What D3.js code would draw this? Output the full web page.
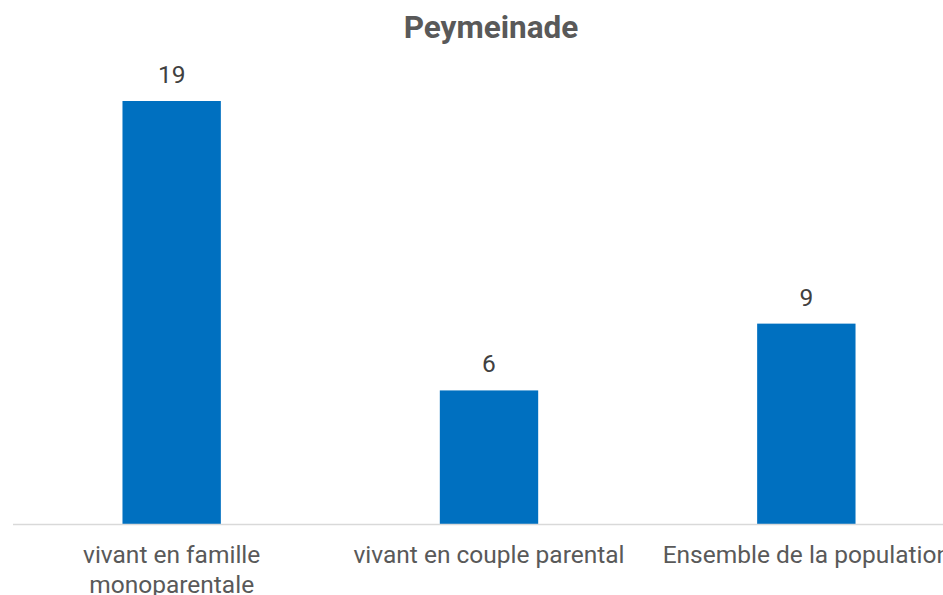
<!DOCTYPE html>
<html><head><meta charset="utf-8">
<script src="https://cdn.jsdelivr.net/npm/d3@7"></script>
<style>body{margin:0;background:#fff;overflow:hidden}svg{display:block}</style>
</head><body>
<svg id="chart" width="943" height="595"></svg>
<script>
const title = "Peymeinade";
const categories = ["vivant en famille monoparentale", "vivant en couple parental", "Ensemble de la population"];
const values = [19, 6, 9];

const svg = d3.select("#chart");
const W = 943, H = 595;
const left = 13, right = 965, baseY = 524, topY = 101;

const x = d3.scaleBand().domain(categories).range([left, right]).paddingInner(0.69).paddingOuter(0.345);
const y = d3.scaleLinear().domain([0, 19]).range([baseY, topY]);

svg.append("text").attr("x", 491).attr("y", 38).attr("text-anchor", "middle")
  .attr("font-family", "Roboto").attr("font-weight", "bold").attr("font-size", 31.5)
  .attr("fill", "#595959").text(title);

svg.append("g").selectAll("rect").data(values).join("rect")
  .attr("x", (d, i) => x(categories[i])).attr("width", x.bandwidth())
  .attr("y", d => y(d)).attr("height", d => baseY - y(d)).attr("fill", "#0070C0");

svg.append("line").attr("x1", left).attr("x2", W).attr("y1", baseY + 0.5).attr("y2", baseY + 0.5)
  .attr("stroke", "#D9D9D9").attr("stroke-width", 1.5);

svg.append("g").selectAll("text").data(values).join("text")
  .attr("x", (d, i) => x(categories[i]) + x.bandwidth() / 2).attr("y", d => y(d) - 18)
  .attr("text-anchor", "middle").attr("font-family", "Roboto").attr("font-size", 24.5)
  .attr("fill", "#404040").text(d => d);

const step = x.step();
const labels = svg.append("g");
categories.forEach((c, i) => {
  const cx = x(c) + x.bandwidth() / 2;
  const t = labels.append("text").attr("x", cx).attr("y", 563).attr("text-anchor", "middle")
    .attr("font-family", "Roboto").attr("font-size", 24.5).attr("fill", "#595959");
  const words = c.split(" ");
  let line = [];
  let ts = t.append("tspan").attr("x", cx).attr("dy", 0);
  words.forEach(w => {
    line.push(w);
    ts.text(line.join(" "));
    if (ts.node().getComputedTextLength() > step - 10 && line.length > 1) {
      line.pop(); ts.text(line.join(" "));
      line = [w];
      ts = t.append("tspan").attr("x", cx).attr("dy", 30).text(w);
    }
  });
});
</script>
</body></html>
